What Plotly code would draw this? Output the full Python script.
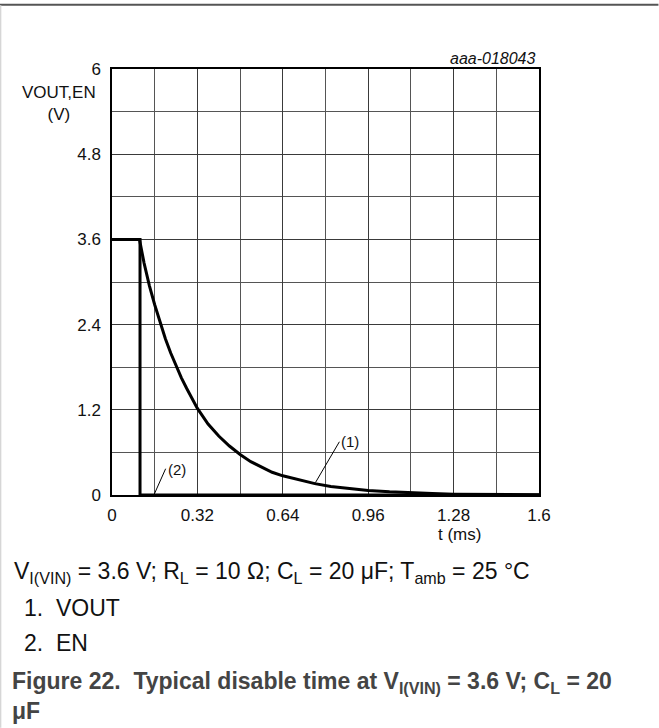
import plotly.graph_objects as go

# ---- data ----
vout_t = [0, 0.103, 0.12, 0.14, 0.16, 0.18, 0.20, 0.22, 0.24, 0.26, 0.28, 0.30, 0.32,
          0.36, 0.40, 0.44, 0.48, 0.52, 0.56, 0.60, 0.64, 0.70, 0.76, 0.82, 0.90,
          0.96, 1.04, 1.12, 1.20, 1.28, 1.40, 1.60]
vout_v = [3.6, 3.6, 3.27, 2.95, 2.68, 2.43, 2.20, 2.00, 1.82, 1.65, 1.50, 1.36, 1.22,
          1.00, 0.83, 0.69, 0.57, 0.47, 0.39, 0.32, 0.27, 0.21, 0.16, 0.12, 0.085,
          0.065, 0.045, 0.03, 0.02, 0.012, 0.006, 0.003]
en_t = [0, 0.105, 0.105, 1.6]
en_v = [3.6, 3.6, 0, 0]

x_ticks = [0, 0.32, 0.64, 0.96, 1.28, 1.6]
x_tick_labels = ["0", "0.32", "0.64", "0.96", "1.28", "1.6"]
y_ticks = [0, 1.2, 2.4, 3.6, 4.8, 6]
y_tick_labels = ["0", "1.2", "2.4", "3.6", "4.8", "6"]

FONT = "Arial, Liberation Sans, sans-serif"
W, H = 659, 728
L, R, T, B = 112.3, 539.5, 68.7, 495.0


def px(xp):
    return (xp - L) / (R - L)


def py(yp):
    return (B - yp) / (B - T)


fig = go.Figure()
fig.add_trace(go.Scatter(x=en_t, y=en_v, mode="lines",
                         line=dict(color="black", width=3), hoverinfo="skip"))
fig.add_trace(go.Scatter(x=vout_t, y=vout_v, mode="lines",
                         line=dict(color="black", width=3), hoverinfo="skip"))

# leader lines for labels
fig.add_trace(go.Scatter(x=[0.762, 0.852], y=[0.173, 0.75], mode="lines",
                         line=dict(color="black", width=1), hoverinfo="skip"))
fig.add_trace(go.Scatter(x=[0.157, 0.201], y=[0.0, 0.37], mode="lines",
                         line=dict(color="black", width=1), hoverinfo="skip"))

fig.update_xaxes(range=[0, 1.6], tickvals=x_ticks, ticktext=x_tick_labels,
                 showline=True, linecolor="black", linewidth=1.5, mirror=True,
                 zeroline=False, ticks="", ticklabelstandoff=4,
                 tickfont=dict(family=FONT, size=17, color="#111"),
                 showgrid=True, gridcolor="#3a3a3a", gridwidth=1,
                 minor=dict(showgrid=True, gridcolor="#555555", gridwidth=1, dtick=0.16, tick0=0))
fig.update_yaxes(range=[0, 6], tickvals=y_ticks, ticktext=y_tick_labels,
                 showline=True, linecolor="black", linewidth=1.5, mirror=True,
                 zeroline=False, ticks="", ticklabelstandoff=6,
                 tickfont=dict(family=FONT, size=17, color="#111"),
                 showgrid=True, gridcolor="#3a3a3a", gridwidth=1,
                 minor=dict(showgrid=True, gridcolor="#555555", gridwidth=1, dtick=0.6, tick0=0))

ann = []
ann.append(dict(x=px(59), y=py(103.5), xref="paper", yref="paper", text="VOUT,EN<br>(V)",
                showarrow=False, xanchor="center", yanchor="middle",
                font=dict(family=FONT, size=17, color="#111")))
ann.append(dict(x=px(460), y=py(535), xref="paper", yref="paper", text="t (ms)",
                showarrow=False, xanchor="center", yanchor="middle",
                font=dict(family=FONT, size=17, color="#111")))
ann.append(dict(x=px(538), y=py(58), xref="paper", yref="paper", text="<i>aaa-018043</i>",
                showarrow=False, xanchor="right", yanchor="middle",
                font=dict(family=FONT, size=16, color="#111")))
ann.append(dict(x=0.852, y=0.75, xref="x", yref="y", text="(1)", showarrow=False,
                xanchor="left", yanchor="bottom", xshift=0, yshift=-10,
                font=dict(family=FONT, size=15, color="#111")))
ann.append(dict(x=0.201, y=0.37, xref="x", yref="y", text="(2)", showarrow=False,
                xanchor="left", yanchor="middle", xshift=0, yshift=-1,
                font=dict(family=FONT, size=15, color="#111")))
ann.append(dict(x=px(12), y=py(573), xref="paper", yref="paper",
                text="V<sub>I(VIN)</sub> = 3.6 V; R<sub>L</sub> = 10 Ω; C<sub>L</sub> = 20 μF; T<sub>amb</sub> = 25 °C",
                showarrow=False, xanchor="left", yanchor="middle",
                font=dict(family=FONT, size=23, color="#111")))
ann.append(dict(x=px(22), y=py(608), xref="paper", yref="paper", text="1.  VOUT",
                showarrow=False, xanchor="left", yanchor="middle",
                font=dict(family=FONT, size=23, color="#111")))
ann.append(dict(x=px(22), y=py(643), xref="paper", yref="paper", text="2.  EN",
                showarrow=False, xanchor="left", yanchor="middle",
                font=dict(family=FONT, size=23, color="#111")))
ann.append(dict(x=px(10), y=py(696), xref="paper", yref="paper",
                text="<b>Figure 22.  Typical disable time at V<sub>I(VIN)</sub> = 3.6 V; C<sub>L</sub> = 20</b><br><b>μF</b>",
                showarrow=False, xanchor="left", yanchor="middle", align="left",
                font=dict(family=FONT, size=23, color="#444")))

shapes = [
    dict(type="line", xref="paper", yref="paper", x0=px(0), x1=px(W), y0=py(4.5), y1=py(4.5),
         line=dict(color="#555", width=2)),
    dict(type="line", xref="paper", yref="paper", x0=px(0.8), x1=px(0.8), y0=py(5), y1=py(H),
         line=dict(color="#d6d6d6", width=1.6)),
]

fig.update_layout(width=W, height=H, margin=dict(l=L, r=W - R, t=T, b=H - B),
                  paper_bgcolor="white", plot_bgcolor="white", showlegend=False,
                  annotations=ann, shapes=shapes)

fig.write_html("out.html")
